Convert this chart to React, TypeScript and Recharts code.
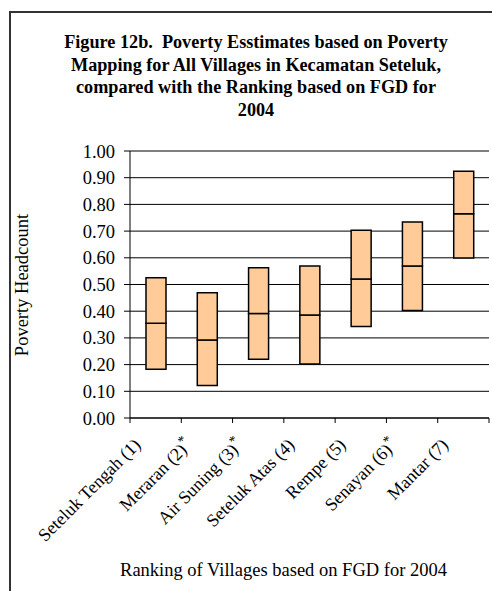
import { BarChart, Bar, XAxis, YAxis, CartesianGrid } from "recharts";

const villages = [
  "Seteluk Tengah (1)",
  "Meraran (2)",
  "Air Suning (3)",
  "Seteluk Atas (4)",
  "Rempe (5)",
  "Senayan (6)",
  "Mantar (7)",
];
const starred = [false, true, true, false, false, true, false];
const lowValues = [0.183, 0.122, 0.22, 0.202, 0.343, 0.403, 0.599];
const midValues = [0.355, 0.292, 0.391, 0.386, 0.521, 0.569, 0.765];
const highValues = [0.525, 0.469, 0.563, 0.569, 0.703, 0.734, 0.924];
const yTicks = [0, 0.1, 0.2, 0.3, 0.4, 0.5, 0.6, 0.7, 0.8, 0.9, 1.0];

const titleLines = [
  "Figure 12b.  Poverty Esstimates based on Poverty",
  "Mapping for All Villages in Kecamatan Seteluk,",
  "compared with the Ranking based on FGD for",
  "2004",
];

const data = villages.map((name, i) => ({
  name,
  base: lowValues[i],
  lower: midValues[i] - lowValues[i],
  upper: highValues[i] - midValues[i],
}));

const FONT = "'Liberation Serif', 'Times New Roman', serif";
const HALF_BAND = 359 / 7 / 2;

const VillageTick = (props: any) => {
  const { x, y, payload, index } = props;
  const star = starred[index];
  return (
    <g>
      <line x1={x - HALF_BAND} y1={y - 8} x2={x - HALF_BAND} y2={y - 3} stroke="#000" />
      {index === villages.length - 1 && (
        <line x1={x + HALF_BAND} y1={y - 8} x2={x + HALF_BAND} y2={y - 3} stroke="#000" />
      )}
      <g transform={`translate(${x - 14},${y + 20}) rotate(-45)`}>
        <text x={0} y={0} textAnchor="end" fontFamily={FONT} fontSize={18} fill="#000">
          {payload.value}
          {star && (
            <tspan dy={-7} fontSize={14}>
              *
            </tspan>
          )}
        </text>
      </g>
    </g>
  );
};

const YTitle = () => (
  <text
    x={0}
    y={0}
    transform="translate(28,285) rotate(-90)"
    textAnchor="middle"
    fontFamily={FONT}
    fontSize={18.5}
    fill="#000"
  >
    Poverty Headcount
  </text>
);

const XTitle = () => (
  <text x={283.5} y={576} textAnchor="middle" fontFamily={FONT} fontSize={18.5} fill="#000">
    Ranking of Villages based on FGD for 2004
  </text>
);

export default function App() {
  return (
    <div style={{ position: "absolute", left: 0, top: 0, width: 492, height: 591, background: "#fff", overflow: "hidden" }}>
      <div
        style={{
          position: "absolute",
          left: 9,
          top: 11,
          width: 520,
          height: 620,
          border: "2px solid #333",
        }}
      />
      <div
        style={{
          position: "absolute",
          left: 0,
          top: 31,
          width: 512,
          textAlign: "center",
          fontFamily: FONT,
          fontWeight: "bold",
          fontSize: 18.2,
          lineHeight: "22.7px",
          color: "#000",
        }}
      >
        {titleLines.map((t) => (
          <div key={t} style={{ whiteSpace: "pre" }}>
            {t}
          </div>
        ))}
      </div>
      <div style={{ position: "absolute", left: 0, top: 0 }}>
        <BarChart
          width={492}
          height={591}
          data={data}
          barSize={20}
          margin={{ top: 151, right: 3, bottom: 113, left: 0 }}
        >
          <CartesianGrid vertical={false} stroke="#000" strokeWidth={1} />
          <XAxis
            dataKey="name"
            interval={0}
            tickLine={false}
            axisLine={{ stroke: "#000" }}
            tick={<VillageTick />}
            height={60}
            label={{ content: <XTitle /> }}
          />
          <YAxis
            width={130}
            domain={[0, 1]}
            ticks={yTicks}
            interval={0}
            tickFormatter={(v: number) => v.toFixed(2)}
            tick={{ fontFamily: FONT, fontSize: 18.5, fill: "#000", dx: -7 }}
            tickLine={{ stroke: "#000" }}
            tickSize={6}
            axisLine={{ stroke: "#000" }}
            label={{ content: <YTitle /> }}
          />
          <Bar dataKey="base" stackId="a" fill="none" stroke="none" isAnimationActive={false} />
          <Bar dataKey="lower" stackId="a" fill="#FFCC99" stroke="#000" strokeWidth={1.5} isAnimationActive={false} />
          <Bar dataKey="upper" stackId="a" fill="#FFCC99" stroke="#000" strokeWidth={1.5} isAnimationActive={false} />
        </BarChart>
      </div>
    </div>
  );
}
